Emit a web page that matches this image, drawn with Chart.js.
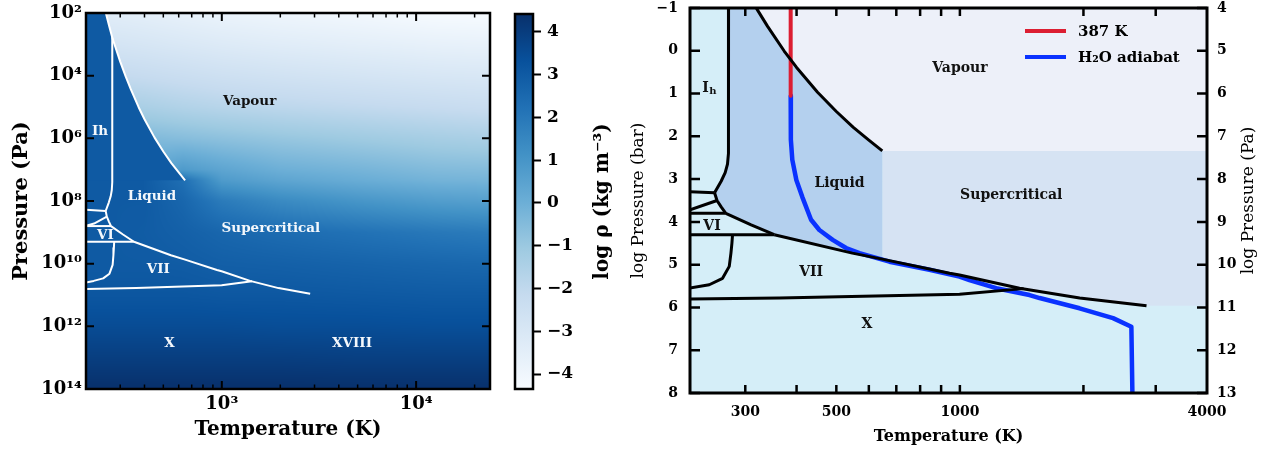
<!DOCTYPE html>
<html><head><meta charset="utf-8">
<script src="https://cdn.jsdelivr.net/npm/chart.js@4.4.1/dist/chart.umd.min.js"></script>
<style>
html,body{margin:0;padding:0;background:#fff;}
#wrap{position:relative;width:1273px;height:449px;overflow:hidden;background:#fff;}
canvas{position:absolute;top:0;}
#cL{left:0}
#cB{left:500px}
#cR{left:620px}
</style></head><body>
<div id="wrap">
<canvas id="cL" width="500" height="449"></canvas>
<canvas id="cB" width="120" height="449"></canvas>
<canvas id="cR" width="653" height="449"></canvas>
</div>
<script>
// ================= DATA =================
// Phase boundaries: temperature (K) and log10 pressure (bar)
const satT   = [253, 263, 273.16, 300, 320, 340, 373.15, 400, 450, 500, 550, 600, 647.1];
const satLP  = [-3.0, -2.59, -2.21, -1.45, -0.98, -0.57, 0.006, 0.39, 0.97, 1.42, 1.79, 2.09, 2.34];
const meltIhT  = [273.16, 273.16, 272.8, 271.5, 268, 262, 252.5];
const meltIhLP = [-2.21, 2.0, 2.4, 2.65, 2.85, 3.05, 3.32];
const iceIhBaseT  = [200, 252.5];
const iceIhBaseLP = [3.28, 3.32];
const meltVT  = [252.5, 256, 262, 269];
const meltVLP = [3.32, 3.50, 3.65, 3.80];
const iceIIVT  = [256, 220, 200];
const iceIIVLP = [3.50, 3.72, 3.79];
const iceVVIT  = [200, 269];
const iceVVILP = [3.80, 3.80];
const meltVIT  = [269, 310, 353];
const meltVILP = [3.80, 4.07, 4.30];
const iceVIVIIT  = [200, 353];
const iceVIVIILP = [4.30, 4.30];
const meltVIIT  = [353, 547, 647.1, 944, 998, 1397, 1958, 2849];
const meltVIILP = [4.30, 4.73, 4.87, 5.20, 5.24, 5.55, 5.78, 5.96];
const iceVIIVIIIT  = [279.3, 278.3, 276.8, 274.2, 264.1, 245.1, 219, 200];
const iceVIIVIIILP = [4.30, 4.50, 4.73, 5.04, 5.32, 5.47, 5.55, 5.60];
const iceVIIXT  = [200, 363, 998, 1430];
const iceVIIXLP = [5.81, 5.78, 5.69, 5.56];
// 387 K isotherm and H2O adiabat (T in K, log10 P in bar)
const isoT  = [387, 387];
const isoLP = [-1, 1.05];
const adiT  = [387, 387.4, 390.6, 399.5, 413.2, 433.9, 454.6, 489.8, 528.1, 569.1, 673.4, 843.3, 997.8, 1055, 1226, 1478, 1564, 1957, 2361, 2617, 2632];
const adiLP = [1.05, 2.08, 2.55, 3.02, 3.42, 3.95, 4.19, 4.42, 4.61, 4.73, 4.93, 5.12, 5.28, 5.36, 5.55, 5.71, 5.78, 6.02, 6.25, 6.45, 8.0];

// Density map, log10 rho (kg m^-3), read on a grid of log10 T (K) x log10 P (Pa)
const rhoLogT = [2.3, 2.45, 2.6, 2.8, 3.0, 3.3, 3.7, 4.1, 4.38];
const rhoLogP = [2, 3, 4, 5, 6, 7, 7.34, 8, 9, 10, 11, 12, 13, 14];
const logRho = [
  [-3.3, -3.4, -3.5, -3.65, -3.8, -3.95, -4.1, -4.3, -4.35],
  [-2.7, -2.8, -2.9, -3.05, -3.2, -3.35, -3.5, -3.65, -3.7],
  [-2.0, -2.1, -2.2, -2.35, -2.5, -2.65, -2.8, -2.95, -3.0],
  [-1.2, -1.3, -1.4, -1.6, -1.75, -1.9, -2.05, -2.2, -2.3],
  [-0.3, -0.35, -0.4, -0.55, -0.7, -0.9, -1.1, -1.3, -1.4],
  [-0.1, -0.1, 0.1, 0.8, 0.4, 0.0, -0.2, -0.45, -0.5],
  [3.0, 3.0, 3.0, 2.3, 0.8, 0.4, 0.1, -0.15, -0.2],
  [3.0, 3.0, 3.0, 2.6, 1.9, 1.4, 1.0, 0.7, 0.6],
  [3.0, 3.0, 2.95, 2.8, 2.6, 2.4, 2.2, 2.0, 1.9],
  [3.0, 3.0, 3.0, 2.95, 2.85, 2.8, 2.7, 2.6, 2.55],
  [3.15, 3.15, 3.15, 3.15, 3.1, 3.1, 3.05, 3.0, 3.0],
  [3.5, 3.5, 3.5, 3.5, 3.5, 3.45, 3.45, 3.4, 3.4],
  [3.95, 3.95, 3.95, 3.95, 3.95, 3.95, 3.9, 3.9, 3.9],
  [4.42, 4.42, 4.42, 4.42, 4.42, 4.42, 4.42, 4.42, 4.42]
];
const liquidLogRho = 3.0;

// Axes and ticks
const xRangeL = [200, 24000];
const yRangeL = [1e2, 1e14];
const xLabelTicksL = [1e3, 1e4];
const xMinorTicksL = [300, 400, 500, 600, 700, 800, 900, 2000, 3000, 4000, 5000, 6000, 7000, 8000, 9000, 20000];
const yTicksL = [1e2, 1e4, 1e6, 1e8, 1e10, 1e12, 1e14];
const cbarRange = [-4.35, 4.42];
const cbarTicks = [-4, -3, -2, -1, 0, 1, 2, 3, 4];
const xRangeR = [220, 4000];
const xLabelTicksR = [300, 500, 1000, 4000];
const xMarkTicksR = [300, 400, 500, 600, 700, 800, 900, 1000, 2000, 3000];
const yRangeR = [-1, 8];
const yTicksR = [-1, 0, 1, 2, 3, 4, 5, 6, 7, 8];
const y2RangeR = [4, 13];
const y2TicksR = [4, 5, 6, 7, 8, 9, 10, 11, 12, 13];

// Region labels
const labelsL   = ['Vapour', 'Ih', 'Liquid', 'Supercritical', 'VI', 'VII', 'X', 'XVIII'];
const labelsLT  = [1390, 236, 437, 1789, 252, 471, 538, 4677];
const labelsLP  = [6.5e4, 5.9e5, 7.4e7, 7.4e8, 1.3e9, 1.5e10, 3.6e12, 3.6e12];
const labelsR   = ['Vapour', 'I_h', 'Liquid', 'Supercritical', 'VI', 'VII', 'X'];
const labelsRT  = [1000, 245, 509, 1334, 249, 434, 594];
const labelsRLP = [0.40, 0.89, 3.10, 3.39, 4.11, 5.18, 6.39];

// ================= STYLE / HELPERS =================
const FONT = '"DejaVu Serif"';
Chart.defaults.font.family = 'DejaVu Serif';
Chart.defaults.color = '#000';
Chart.defaults.animation = false;

const bluesPos = [0, 0.125, 0.25, 0.375, 0.5, 0.625, 0.75, 0.875, 1];
const bluesHex = ['#f7fbff','#deebf7','#c6dbef','#9ecae1','#6baed6','#4292c6','#2171b5','#08519c','#08306b'];
const bluesRGB = bluesHex.map(h => [1,3,5].map(k => parseInt(h.substr(k,2),16)));
function cmapRGB(v) {
  let f = (v - cbarRange[0]) / (cbarRange[1] - cbarRange[0]);
  f = Math.max(0, Math.min(1, f));
  let i = 0; while (i < bluesPos.length - 2 && f > bluesPos[i+1]) i++;
  const t = (f - bluesPos[i]) / (bluesPos[i+1] - bluesPos[i]);
  const a = bluesRGB[i], b = bluesRGB[i+1];
  return [0,1,2].map(k => Math.round(a[k] + (b[k]-a[k]) * t));
}
const cmapCss = v => { const c = cmapRGB(v); return `rgb(${c[0]},${c[1]},${c[2]})`; };

function rhoAt(lt, lp) {
  let i = 0; while (i < rhoLogT.length - 2 && lt > rhoLogT[i+1]) i++;
  let j = 0; while (j < rhoLogP.length - 2 && lp > rhoLogP[j+1]) j++;
  const tx = Math.max(0, Math.min(1, (lt - rhoLogT[i]) / (rhoLogT[i+1] - rhoLogT[i])));
  const ty = Math.max(0, Math.min(1, (lp - rhoLogP[j]) / (rhoLogP[j+1] - rhoLogP[j])));
  const r0 = logRho[j], r1 = logRho[j+1];
  return (1-ty) * ((1-tx) * r0[i] + tx * r0[i+1]) + ty * ((1-tx) * r1[i] + tx * r1[i+1]);
}

const supMap = {'0':'⁰','1':'¹','2':'²','3':'³','4':'⁴','5':'⁵','6':'⁶','7':'⁷','8':'⁸','9':'⁹','-':'⁻'};
const pow10 = v => '10' + String(Math.round(Math.log10(v))).replace(/[0-9-]/g, c => supMap[c]);
const fmtMinus = v => (v < 0 ? '−' + Math.abs(v) : String(v));
const toPa = lp => Math.pow(10, lp + 5);
const asBar = lp => lp;

function pts(T, LP, conv) { return T.map((t, i) => ({x: t, y: conv(LP[i])})); }
function lineDs(T, LP, conv, color, width, order, label) {
  return { label: label || '', data: pts(T, LP, conv), showLine: true, borderColor: color, borderWidth: width,
    pointRadius: 0, pointHoverRadius: 0, fill: false, tension: 0, order, borderJoinStyle: 'round', borderCapStyle: 'butt' };
}
function polyDs(data, color, order) {
  return { data, showLine: true, borderWidth: 0, borderColor: 'rgba(0,0,0,0)', backgroundColor: color,
    fill: 'shape', pointRadius: 0, pointHoverRadius: 0, tension: 0, order };
}
// fix an axis' thickness and drop Chart.js' automatic label overhang padding
const fixSize = (prop, val) => s => { s[prop] = val; s.paddingTop = 0; s.paddingBottom = 0; s.paddingLeft = 0; s.paddingRight = 0; };

// ---- plugins ----
const heatPlugin = {
  id: 'heat',
  beforeDatasetsDraw(chart) {
    const {ctx, chartArea: a, scales: {x, y}} = chart;
    const x0 = Math.round(a.left), y0 = Math.round(a.top);
    const w = Math.round(a.right) - x0, h = Math.round(a.bottom) - y0;
    const off = document.createElement('canvas'); off.width = w; off.height = h;
    const octx = off.getContext('2d');
    const img = octx.createImageData(w, h);
    const lts = new Float64Array(w);
    for (let i = 0; i < w; i++) lts[i] = Math.log10(x.getValueForPixel(x0 + i + 0.5));
    for (let j = 0; j < h; j++) {
      const lp = Math.log10(y.getValueForPixel(y0 + j + 0.5));
      for (let i = 0; i < w; i++) {
        const c = cmapRGB(rhoAt(lts[i], lp));
        const k = (j * w + i) * 4;
        img.data[k] = c[0]; img.data[k+1] = c[1]; img.data[k+2] = c[2]; img.data[k+3] = 255;
      }
    }
    octx.putImageData(img, 0, 0);
    ctx.drawImage(off, x0, y0);
  }
};
function bgPlugin(color) {
  return { id: 'bg', beforeDatasetsDraw(chart) {
    const {ctx, chartArea: a} = chart;
    ctx.save(); ctx.fillStyle = color; ctx.fillRect(a.left, a.top, a.right - a.left, a.bottom - a.top); ctx.restore();
  }};
}
function framePlugin(marks, frameWidth) {
  return { id: 'frame', afterDraw(chart) {
    const {ctx, chartArea: a} = chart;
    ctx.save(); ctx.strokeStyle = '#000'; ctx.lineCap = 'butt';
    marks.forEach(m => {
      const s = chart.scales[m.scale];
      ctx.lineWidth = m.width;
      m.values.forEach(v => {
        const p = s.getPixelForValue(v);
        ctx.beginPath();
        if (s.isHorizontal()) {
          ctx.moveTo(p, a.bottom); ctx.lineTo(p, a.bottom - m.len);
          ctx.moveTo(p, a.top); ctx.lineTo(p, a.top + m.len);
        } else {
          ctx.moveTo(a.left, p); ctx.lineTo(a.left + m.len, p);
          ctx.moveTo(a.right, p); ctx.lineTo(a.right - m.len, p);
        }
        ctx.stroke();
      });
    });
    ctx.lineWidth = frameWidth;
    ctx.strokeRect(a.left, a.top, a.right - a.left, a.bottom - a.top);
    ctx.restore();
  }};
}
function labelPlugin(names, Ts, Ps, colors, size) {
  return { id: 'regionLabels', afterDatasetsDraw(chart) {
    const {ctx, scales: {x, y}} = chart;
    ctx.save(); ctx.textBaseline = 'middle';
    names.forEach((n, i) => {
      const px = x.getPixelForValue(Ts[i]), py = y.getPixelForValue(Ps[i]);
      ctx.fillStyle = colors[i];
      if (n.indexOf('_') >= 0) {
        const [main, sub] = n.split('_');
        ctx.font = `bold ${size}px ${FONT}`; const w1 = ctx.measureText(main).width;
        ctx.font = `bold ${Math.round(size * 0.72)}px ${FONT}`; const w2 = ctx.measureText(sub).width;
        const x0 = px - (w1 + w2) / 2;
        ctx.textAlign = 'left';
        ctx.font = `bold ${size}px ${FONT}`; ctx.fillText(main, x0, py);
        ctx.font = `bold ${Math.round(size * 0.72)}px ${FONT}`; ctx.fillText(sub, x0 + w1 + 0.5, py + 3);
      } else {
        ctx.textAlign = 'center'; ctx.font = `bold ${size}px ${FONT}`; ctx.fillText(n, px, py);
      }
    });
    ctx.restore();
  }};
}
function vTitlePlugin(text, dx, font) {
  return { id: 'vtitle', afterDraw(chart) {
    const {ctx, chartArea: a} = chart;
    ctx.save(); ctx.translate(a.right + dx, (a.top + a.bottom) / 2); ctx.rotate(-Math.PI / 2);
    ctx.font = font; ctx.fillStyle = '#000'; ctx.textAlign = 'center'; ctx.textBaseline = 'middle';
    ctx.fillText(text, 0, 0); ctx.restore();
  }};
}
function legendPlugin(indices) {
  return { id: 'legendIn', afterDatasetsDraw(chart) {
    const {ctx, chartArea: a} = chart;
    ctx.save();
    indices.forEach((di, k) => {
      const ds = chart.data.datasets[di];
      const yy = a.top + 23 + k * 26;
      ctx.strokeStyle = ds.borderColor; ctx.lineWidth = 4; ctx.lineCap = 'butt';
      ctx.beginPath(); ctx.moveTo(a.right - 182, yy); ctx.lineTo(a.right - 141, yy); ctx.stroke();
      ctx.fillStyle = '#000'; ctx.font = `bold 15px ${FONT}`; ctx.textAlign = 'left'; ctx.textBaseline = 'middle';
      ctx.fillText(ds.label, a.right - 129, yy + 1);
    });
    ctx.restore();
  }};
}

const hiddenGrid = { display: false, drawTicks: false };
const noBorder = { display: false };

// ================= LEFT: density map =================
const WHITE = '#ffffff';
const boundarySets = [
  [satT, satLP], [meltIhT, meltIhLP], [iceIhBaseT, iceIhBaseLP], [meltVT, meltVLP], [iceIIVT, iceIIVLP],
  [iceVVIT, iceVVILP], [meltVIT, meltVILP], [iceVIVIIT, iceVIVIILP], [meltVIIT, meltVIILP],
  [iceVIIVIIIT, iceVIIVIIILP], [iceVIIXT, iceVIIXLP]
];
const densePoly = [{x: xRangeL[0], y: toPa(satLP[0])}]
  .concat(pts(satT, satLP, toPa))
  .concat([{x: xRangeL[0], y: toPa(satLP[satLP.length - 1])}]);

new Chart(document.getElementById('cL'), {
  type: 'scatter',
  data: { datasets: boundarySets.map(b => lineDs(b[0], b[1], toPa, WHITE, 2, 0)).concat([polyDs(densePoly, cmapCss(liquidLogRho), 5)]) },
  options: {
    responsive: false, animation: false, devicePixelRatio: 1,
    layout: { padding: { left: 0, top: 13, right: 10, bottom: 0 } },
    plugins: { legend: { display: false }, tooltip: { enabled: false } },
    scales: {
      x: { type: 'logarithmic', position: 'bottom', min: xRangeL[0], max: xRangeL[1], grid: hiddenGrid, border: noBorder,
        afterBuildTicks: s => { s.ticks = xLabelTicksL.map(v => ({value: v})); },
        afterFit: fixSize('height', 60),
        ticks: { autoSkip: false, maxRotation: 0, padding: 5, font: { size: 18, weight: 'bold' }, callback: v => pow10(v) },
        title: { display: true, text: 'Temperature (K)', font: { size: 20, weight: 'bold' }, padding: { top: 0, bottom: 7 } } },
      y: { type: 'logarithmic', position: 'left', reverse: true, min: yRangeL[0], max: yRangeL[1], grid: hiddenGrid, border: noBorder,
        afterBuildTicks: s => { s.ticks = yTicksL.map(v => ({value: v})); },
        afterFit: fixSize('width', 86),
        ticks: { autoSkip: false, padding: 4, font: { size: 18, weight: 'bold' }, callback: v => pow10(v) },
        title: { display: true, text: 'Pressure (Pa)', font: { size: 21, weight: 'bold' }, padding: { top: 9, bottom: 0 } } }
    }
  },
  plugins: [heatPlugin,
    framePlugin([{scale: 'x', values: xLabelTicksL, len: 8, width: 2}, {scale: 'x', values: xMinorTicksL, len: 4.5, width: 1.5},
                 {scale: 'y', values: yTicksL, len: 8, width: 2}], 2.5),
    labelPlugin(labelsL, labelsLT, labelsLP, labelsL.map(n => n === 'Vapour' ? '#111' : '#f4f8fc'), 13.5)]
});

// ================= COLORBAR =================
new Chart(document.getElementById('cB'), {
  type: 'bar',
  data: { labels: ['log ρ'], datasets: [{ data: [cbarRange], borderWidth: 0, barPercentage: 1, categoryPercentage: 1,
    backgroundColor: c => {
      const ch = c.chart; if (!ch.chartArea) return bluesHex[4];
      const y = ch.scales.y;
      const g = ch.ctx.createLinearGradient(0, y.getPixelForValue(cbarRange[0]), 0, y.getPixelForValue(cbarRange[1]));
      bluesPos.forEach((p, i) => g.addColorStop(p, bluesHex[i]));
      return g;
    } }] },
  options: {
    responsive: false, animation: false, devicePixelRatio: 1,
    layout: { padding: { left: 15, top: 14, right: 0, bottom: 60 } },
    plugins: { legend: { display: false }, tooltip: { enabled: false } },
    scales: {
      x: { display: false },
      y: { position: 'right', min: cbarRange[0], max: cbarRange[1],
        grid: { display: true, drawOnChartArea: false, drawTicks: true, tickLength: 8, tickColor: '#000', tickWidth: 2 },
        border: noBorder,
        afterBuildTicks: s => { s.ticks = cbarTicks.map(v => ({value: v})); },
        afterFit: fixSize('width', 87),
        ticks: { padding: 6, font: { size: 17, weight: 'bold' }, callback: v => fmtMinus(v) } }
    }
  },
  plugins: [framePlugin([], 2.5), vTitlePlugin('log ρ (kg m⁻³)', 70, `bold 20px ${FONT}`)]
});

// ================= RIGHT: phase diagram =================
const BLACK = '#000000';
const liqStart = satT.indexOf(273.16);
const vapourPoly = pts(satT, satLP, asBar).concat([
  {x: xRangeR[1], y: satLP[satLP.length - 1]}, {x: xRangeR[1], y: satLP[0]}]);
const liquidPoly = pts(meltIhT, meltIhLP, asBar)
  .concat(pts(meltVT, meltVLP, asBar))
  .concat(pts(meltVIT, meltVILP, asBar))
  .concat(pts(meltVIIT.slice(0, 3), meltVIILP.slice(0, 3), asBar))
  .concat(pts(satT.slice(liqStart).reverse(), satLP.slice(liqStart).reverse(), asBar));
const superPoly = [{x: satT[satT.length - 1], y: satLP[satLP.length - 1]}, {x: xRangeR[1], y: satLP[satLP.length - 1]},
  {x: xRangeR[1], y: meltVIILP[meltVIILP.length - 1]}]
  .concat(pts(meltVIIT.slice(2).reverse(), meltVIILP.slice(2).reverse(), asBar));

const rightSets = [
  lineDs(isoT, isoLP, asBar, '#dc1e32', 4, 1, '387 K'),
  lineDs(adiT, adiLP, asBar, '#0a32ff', 4.5, 1, 'H₂O adiabat')
].concat(boundarySets.map(b => lineDs(b[0], b[1], asBar, BLACK, 3, 0)))
 .concat([polyDs(vapourPoly, '#edf0f9', 5), polyDs(liquidPoly, '#b4d0ee', 5), polyDs(superPoly, '#d6e3f3', 5)]);

new Chart(document.getElementById('cR'), {
  type: 'scatter',
  data: { datasets: rightSets },
  options: {
    responsive: false, animation: false, devicePixelRatio: 1,
    layout: { padding: { left: 0, top: 8, right: 0, bottom: 0 } },
    plugins: { legend: { display: false }, tooltip: { enabled: false } },
    scales: {
      x: { type: 'logarithmic', position: 'bottom', min: xRangeR[0], max: xRangeR[1], grid: hiddenGrid, border: noBorder,
        afterBuildTicks: s => { s.ticks = xLabelTicksR.map(v => ({value: v})); },
        afterFit: fixSize('height', 56),
        ticks: { autoSkip: false, maxRotation: 0, padding: 11, font: { size: 14, weight: 'bold' }, callback: v => String(v) },
        title: { display: true, text: 'Temperature (K)', font: { size: 16, weight: 'bold' }, padding: { top: 0, bottom: 3 } } },
      y: { type: 'linear', position: 'left', reverse: true, min: yRangeR[0], max: yRangeR[1], grid: hiddenGrid, border: noBorder,
        afterBuildTicks: s => { s.ticks = yTicksR.map(v => ({value: v})); },
        afterFit: fixSize('width', 70),
        ticks: { autoSkip: false, padding: 12, font: { size: 14, weight: 'bold' }, callback: v => fmtMinus(v) },
        title: { display: true, text: 'log Pressure (bar)', font: { size: 17, weight: 'normal' }, padding: { top: 8, bottom: 0 } } },
      y2: { type: 'linear', position: 'right', reverse: true, min: y2RangeR[0], max: y2RangeR[1], grid: hiddenGrid, border: noBorder,
        afterBuildTicks: s => { s.ticks = y2TicksR.map(v => ({value: v})); },
        afterFit: fixSize('width', 66),
        ticks: { autoSkip: false, padding: 10, font: { size: 14, weight: 'bold' }, callback: v => fmtMinus(v) } }
    }
  },
  plugins: [bgPlugin('#d5eef8'),
    framePlugin([{scale: 'x', values: xMarkTicksR, len: 8, width: 2.5}, {scale: 'y', values: yTicksR, len: 10, width: 2.5}], 3),
    labelPlugin(labelsR, labelsRT, labelsRLP, labelsR.map(() => '#111'), 14),
    legendPlugin([0, 1]),
    vTitlePlugin('log Pressure (Pa)', 42, `17px ${FONT}`)]
});
</script></body></html>
